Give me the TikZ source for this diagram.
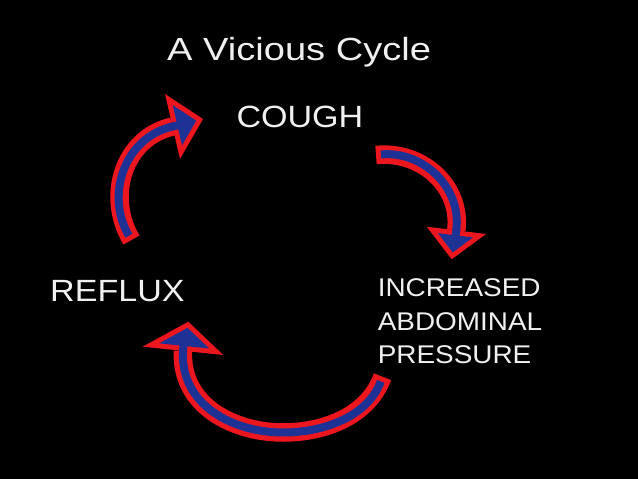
\documentclass[tikz,border=0pt]{standalone}
\usepackage{fontspec}
\setmainfont{Liberation Sans}
\usetikzlibrary{calc}
\definecolor{arred}{RGB}{236,22,30}
\definecolor{arblue}{RGB}{30,50,150}
\definecolor{txt}{RGB}{240,240,240}
\begin{document}
\begin{tikzpicture}[x=1pt,y=-1pt,
  lbl/.style={text=txt, inner sep=0pt, anchor=base west},
  shaftout/.style={draw=arred, line width=18.5pt},
  shaftin/.style={draw=arblue, line width=8pt},
  headout/.style={fill=arred},
  headin/.style={fill=arblue}]
\fill[black] (0,0) rectangle (638,479);
% texts
\node[lbl, font=\fontsize{32}{38}\selectfont] (title) at (167,60) {\scalebox{1.19}[1]{A Vicious Cycle}};
\node[lbl, font=\fontsize{30.7}{36}\selectfont] (cough) at (236.3,127) {\scalebox{1.11}[1]{COUGH}};
\node[lbl, font=\fontsize{30.7}{36}\selectfont] (reflux) at (50,301.7) {\scalebox{1.11}[1]{REFLUX}};
\node[lbl, font=\fontsize{25.6}{33.3}\selectfont] (inc1) at (377.6,296.7) {\scalebox{1.09}[1]{INCREASED}};
\node[lbl, font=\fontsize{25.6}{33.3}\selectfont] (inc2) at (377.6,330) {\scalebox{1.09}[1]{ABDOMINAL}};
\node[lbl, font=\fontsize{25.6}{33.3}\selectfont] (inc3) at (377.6,363.3) {\scalebox{1.09}[1]{PRESSURE}};
% arrow 1 (reflux -> cough)
\coordinate (a1t) at (131.5,240);
\coordinate (a1b) at (172.5,126.5);
\coordinate (h1a) at (165,94);
\coordinate (h1t) at (203,119);
\coordinate (h1c) at (180,159);
\coordinate (i1) at (185.3,123.2);
\draw[shaftout] (a1t) .. controls (105.4,196.5) and (123.3,137.9) .. (a1b);
\fill[headout] (h1a) -- (h1t) -- (h1c) -- cycle;
\draw[shaftin, shorten <=5pt] (a1t) .. controls (105.4,196.5) and (123.3,137.9) .. (a1b) -- ++(7.8,-1.8);
\fill[headin] ($(i1)!0.62!(h1a)$) -- ($(i1)!0.62!(h1t)$) -- ($(i1)!0.62!(h1c)$) -- cycle;
% arrow 2 (cough -> pressure)
\coordinate (a2t) at (376,155);
\coordinate (a2b) at (456.3,230.3);
\coordinate (h2a) at (426.7,226.7);
\coordinate (h2t) at (451.7,259.3);
\coordinate (h2c) at (486,234);
\coordinate (i2) at (454.1,242.4);
\draw[shaftout] (a2t) .. controls (421,150.4) and (461.8,185.6) .. (a2b);
\fill[headout] (h2a) -- (h2t) -- (h2c) -- cycle;
\draw[shaftin, shorten <=5pt] (a2t) .. controls (421,150.4) and (461.8,185.6) .. (a2b) -- ++(-1,7.9);
\fill[headin] ($(i2)!0.59!(h2a)$) -- ($(i2)!0.59!(h2t)$) -- ($(i2)!0.59!(h2c)$) -- cycle;
% arrow 3 (pressure -> reflux)
\coordinate (a3t) at (382.5,376.7);
\coordinate (a3m) at (283,432.5);
\coordinate (a3b) at (183,350.8);
\coordinate (h3a) at (142.7,346.7);
\coordinate (h3t) at (188.3,321.7);
\coordinate (h3c) at (223.3,355);
\coordinate (i3) at (186.2,337.9);
\draw[shaftout] (a3t) .. controls (368.2,415.9) and (324.8,432.5) .. (a3m)
  .. controls (233,432.5) and (180,405) .. (a3b);
\fill[headout] (h3a) -- (h3t) -- (h3c) -- cycle;
\draw[shaftin, shorten <=5pt] (a3t) .. controls (368.2,415.9) and (324.8,432.5) .. (a3m)
  .. controls (233,432.5) and (180,405) .. (a3b) -- ++(0.8,-8);
\fill[headin] ($(i3)!0.62!(h3a)$) -- ($(i3)!0.62!(h3t)$) -- ($(i3)!0.62!(h3c)$) -- cycle;
\end{tikzpicture}
\end{document}
